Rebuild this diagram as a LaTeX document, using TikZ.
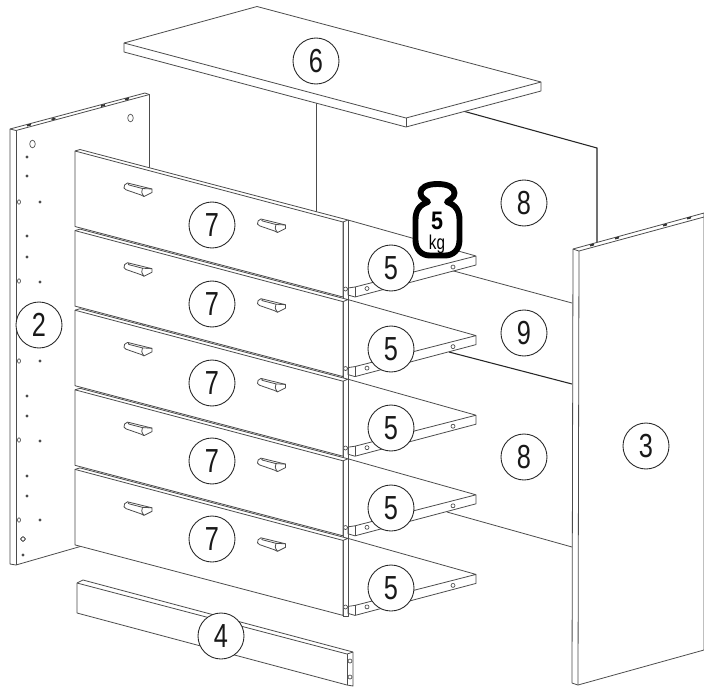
\documentclass[tikz,border=0pt]{standalone}
\usepackage{fontspec}
\newfontfamily\numf[FakeStretch=0.76]{Liberation Sans}
\newfontfamily\numb[FakeStretch=0.85]{Liberation Sans}
\tikzset{
  ln/.style={draw=black!70,line width=0.6pt,line join=round},
  solid panel/.style={ln,fill=white},
  dark/.style={draw=black!85,line width=0.8pt},
  callout/.style={circle,draw=black!85,line width=0.65pt,fill=white,minimum size=34.5pt,inner sep=0pt,
    font=\numf\fontsize{25}{25}\selectfont,text=black!90},
  hole/.style={draw=black!70,line width=0.5pt,fill=white},
  dot/.style={fill=black!70},
  slot/.style={draw=black!80,line width=1.4pt},
}
\newcommand{\handle}[2]{%
  \begin{scope}[shift={(#1,#2)}]
    \draw[solid panel] (-10,-6.5) .. controls (-12.5,-6) and (-14,-3.5) .. (-13.5,-1.5) .. controls (-13.3,-0.5) and (-12.5,0) .. (-11.5,0.3)
       -- (3.5,5.5) .. controls (4.5,6.2) and (5.5,7) .. (6.5,7) -- (14.5,3) -- (14.5,-0.5) -- cycle;
    \draw[ln] (14.5,-0.5) -- (5,-1) .. controls (3.5,1) and (4,4) .. (6.5,7);
    \draw[ln] (-8.5,-6) .. controls (-9.5,-5.5) and (-9.5,-4.5) .. (-8.5,-4.5) -- (5,-1);
  \end{scope}}
\newcommand{\lefthole}[2]{\draw[hole] (#1,#2) ellipse (1.5 and 2.2);}
\begin{document}
\begin{tikzpicture}[x=0.75pt,y=-0.75pt]
\useasboundingbox (0,0) rectangle (704,687);
\clip (0,0) rectangle (704,687);
\fill[white] (0,0) rectangle (704,687);

% back panels
\draw[ln] (316,100) -- (316,230);
\draw[dark] (463,111) -- (597,148) -- (597,245);
\draw[ln] (450,270) -- (572,303);
\draw[dark] (449,352) -- (572,384);
\draw[ln] (447,512) -- (572,547);

% top panel
\draw[solid panel] (124,43) -- (257,6.5) -- (541,82) -- (541,91) -- (406,127) -- (124,52) -- cycle;
\draw[ln] (124,43) -- (406,118) -- (541,82);
\draw[ln] (406,118) -- (406,127);

% left panel
\draw[solid panel] (10,129) -- (145,93) -- (149.5,94.5) -- (149.5,300) -- (82,546) -- (16,565) -- (10,564) -- cycle;
\draw[ln] (10,129) -- (16,130.5) -- (149.5,94.5);
\draw[ln] (16,130.5) -- (16,565);
\foreach \p in {(29,125),(53.5,119),(103,105.5),(127,99)}
  \draw[slot] \p ++(-2,0.5) -- ++(4,-1);
\draw[hole] (32.5,144) ellipse (2.8 and 3.8);
\draw[hole] (130.5,118) ellipse (2.8 and 3.8);
\foreach \p in {(27,157),(27,176),(40,202),(27,236),(27,257),(40,282),(40,361),(27,396),(27,416),(40,441),(27,476),(27,496),(40,520),(23,555)}
  \fill[dot] \p circle (1.7);
\foreach \a/\b in {19/202,19/281,19/361,19/440,19/520} \lefthole{\a}{\b}
\draw[hole] (23,539) circle (2);

% shelves
\foreach \i in {0,...,4}{
  \begin{scope}[yshift={-\i*79.6*0.75pt}]
    \draw[solid panel] (348,220) -- (476,256) -- (476,265) -- (355,297) -- (348,295) -- (348,288) -- (355,287) -- (476,256);
    \draw[ln] (355,287) -- (355,297);
    \draw[hole] (367,288.5) circle (2);
    \draw[hole] (453,267) circle (2);
  \end{scope}
}

% right side strips of the drawers
\draw[ln] (343,222) -- (343,616);
\draw[ln] (348,220) -- (348,616) -- (343,616);
\foreach \i in {0,...,4}
  \draw[hole] (345.5,{289+\i*79.5}) circle (2);

% drawer fronts
\foreach \i in {0,...,4}{
  \begin{scope}[yshift={-\i*79.6*0.75pt}]
    \draw[solid panel] (75,151) -- (80,149.5) -- (348,220) -- (343,222) -- (343,297) -- (75,226.5) -- cycle;
    \draw[ln] (75,151) -- (343,222);
  \end{scope}
}
\foreach \i in {0,...,4}{
  \handle{137.5}{189.5+\i*79.7}
  \handle{271}{225.5+\i*79.7}
}

% right panel
\draw[solid panel] (573,249) -- (704,213) -- (704,650) -- (578,685) -- (572,683) -- cycle;
\draw[ln] (573,249) -- (579,251) -- (704,217);
\draw[ln] (579,251) -- (578,685);
\foreach \p in {(592,245),(617,238),(665,225),(689,218)}
  \draw[slot] \p ++(-2,0.5) -- ++(4,-1);

% plinth rail
\draw[solid panel] (77,583) -- (83,580) -- (353,652) -- (353,686) -- (347,685) -- (77,613) -- cycle;
\draw[ln] (77,583) -- (347,654) -- (353,652);
\draw[ln] (347,654) -- (347,685);
\draw[hole] (350,661) circle (2);
\draw[hole] (350,677) circle (2);

% weight symbol
\draw[fill=white,draw=black,line width=4.4pt,line join=round]
  (437.5,184) .. controls (426,184) and (420.5,188) .. (420.5,193)
  .. controls (420.5,198) and (425,199) .. (428,202)
  .. controls (419,205) and (415.5,211) .. (415.5,220) -- (415.5,240)
  .. controls (415.5,250) and (422,255.5) .. (430,255.5) -- (445,255.5)
  .. controls (453,255.5) and (459.5,250) .. (459.5,240) -- (459.5,220)
  .. controls (459.5,211) and (456,205) .. (447,202)
  .. controls (450,199) and (454.5,198) .. (454.5,193)
  .. controls (454.5,188) and (449,184) .. (437.5,184) -- cycle;
\node[inner sep=0pt,font=\numb\bfseries\fontsize{19}{19}\selectfont] (wfive) at (437,221) {5};
\node[inner sep=0pt,font=\numf\fontsize{15}{15}\selectfont] (wkg) at (437,244.5) {kg};

% callouts
\node[callout] (n6) at (316,61) {6};
\node[callout] (n2) at (39,325) {2};
\node[callout] (n3) at (646,446) {3};
\node[callout] (n4) at (221,636) {4};
\node[callout] (n8a) at (524,203) {8};
\node[callout] (n9) at (524,333) {9};
\node[callout] (n8b) at (524,457) {8};
\foreach \i/\y in {1/225,2/304,3/383,4/461,5/539} \node[callout] (s\i) at (212,\y) {7};
\foreach \i/\y in {1/268,2/349,3/428,4/508,5/588} \node[callout] (f\i) at (391,\y) {5};
\end{tikzpicture}
\end{document}
